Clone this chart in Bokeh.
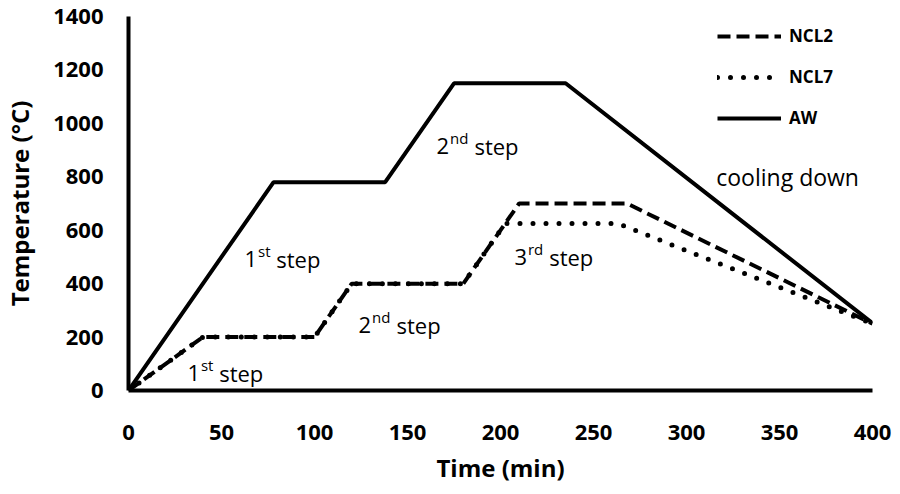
from bokeh.plotting import figure
from bokeh.models import FixedTicker, ColumnDataSource, Legend
from bokeh.core.properties import value
from bokeh.embed import file_html
from bokeh.resources import INLINE

# ---- data ----
ncl2_time = [0, 40, 100, 120, 180, 210, 268, 400]
ncl2_temp = [0, 200, 200, 400, 400, 700, 700, 250]

ncl7_time = [0, 40, 100, 120, 180, 202.5, 263, 400]
ncl7_temp = [0, 200, 200, 400, 400, 625, 625, 250]

aw_time = [0, 78, 138, 175, 235, 400]
aw_temp = [0, 780, 780, 1150, 1150, 252]

x_ticks = [0, 50, 100, 150, 200, 250, 300, 350, 400]
y_ticks = [0, 200, 400, 600, 800, 1000, 1200, 1400]

# step annotations: number, superscript suffix, word
step_x = [62.4, 31.7, 123.7, 165.6, 207.5]
step_y = [494, 66, 246, 916, 500]
step_num = ["1", "1", "2", "2", "3"]
step_sup = ["st", "st", "nd", "nd", "rd"]
step_word = ["step", "step", "step", "step", "step"]

cool_x = [316]
cool_y = [798]
cool_text = ["cooling down"]

FONT = "Open Sans"

p = figure(frame_width=744, frame_height=374,
           min_border_left=121, min_border_right=23,
           min_border_top=16, min_border_bottom=88,
           x_range=(0, 400), y_range=(0, 1400),
           output_backend="svg", toolbar_location=None,
           background_fill_color="white", border_fill_color="white")
p.outline_line_color = None
p.xgrid.visible = False
p.ygrid.visible = False

r2 = p.line(ncl2_time, ncl2_temp, line_color="black", line_width=4,
            line_dash="13 6")
r7 = p.line(ncl7_time, ncl7_temp, line_color="black", line_width=5,
            line_dash="0 13", line_cap="round")
ra = p.line(aw_time, aw_temp, line_color="black", line_width=4)

# axes
for ax in (p.xaxis[0], p.yaxis[0]):
    ax.axis_line_width = 4
    ax.axis_line_color = "black"
    ax.major_tick_line_color = None
    ax.minor_tick_line_color = None
    ax.major_tick_out = 0
    ax.major_tick_in = 0
    ax.major_label_text_font = FONT
    ax.major_label_text_font_style = "bold"
    ax.major_label_text_font_size = "22px"
    ax.major_label_text_color = "black"
    ax.axis_label_text_font = FONT
    ax.axis_label_text_font_style = "bold"
    ax.axis_label_text_font_size = "24px"
    ax.axis_label_text_color = "black"

p.xaxis[0].ticker = FixedTicker(ticks=x_ticks)
p.yaxis[0].ticker = FixedTicker(ticks=y_ticks)
p.xaxis[0].axis_label = "Time (min)"
p.yaxis[0].axis_label = "Temperature (°C)"
p.xaxis[0].major_label_standoff = 34
p.yaxis[0].major_label_standoff = 25
p.xaxis[0].axis_label_standoff = 8
p.yaxis[0].axis_label_standoff = 14

# annotations
sup_w = {"st": 12.2, "nd": 18.4, "rd": 15.2}
src = ColumnDataSource(dict(
    x=step_x, y=step_y, num=step_num, sup=step_sup, word=step_word,
    wdx=[13.5 + sup_w[s] + 6 for s in step_sup],
))
p.text(x="x", y="y", text="num", source=src, text_font=value(FONT),
       text_font_size="22px", text_color="black",
       text_baseline="alphabetic", text_align="left")
p.text(x="x", y="y", text="sup", source=src, text_font=value(FONT),
       text_font_size="15px", text_color="black", x_offset=13.5, y_offset=-8,
       text_baseline="alphabetic", text_align="left")
p.text(x="x", y="y", text="word", source=src, text_font=value(FONT),
       text_font_size="22px", text_color="black", x_offset="wdx",
       text_baseline="alphabetic", text_align="left")
p.text(x=cool_x, y=cool_y, text=cool_text, text_font=value(FONT),
       text_font_size="23px", text_color="black",
       text_baseline="alphabetic", text_align="left")

legend = Legend(items=[("NCL2", [r2]), ("NCL7", [r7]), ("AW", [ra])],
                location=(589, 261))
legend.glyph_width = 64
legend.glyph_height = 20
legend.label_height = 20
legend.spacing = 18
legend.padding = 0
legend.margin = 0
legend.label_standoff = 8
legend.border_line_color = None
legend.background_fill_alpha = 0
legend.label_text_font = FONT
legend.label_text_font_style = "bold"
legend.label_text_font_size = "17px"
legend.label_text_color = "black"
p.add_layout(legend)

open("out.html", "w").write(file_html(p, INLINE))
